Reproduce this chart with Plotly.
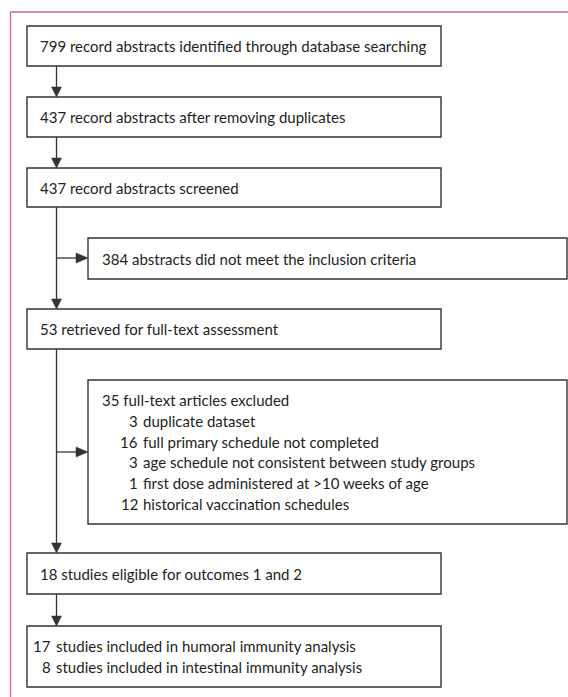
import plotly.graph_objects as go

# ---- content ----
main_texts = [
    ["799 record abstracts identified through database searching"],
    ["437 record abstracts after removing duplicates"],
    ["437 record abstracts screened"],
    ["53 retrieved for full-text assessment"],
    ["18 studies eligible for outcomes 1 and 2"],
    ["17 studies included in humoral immunity analysis",
     "8 studies included in intestinal immunity analysis"],
]
side_header = ["384 abstracts did not meet the inclusion criteria",
               "35 full-text articles excluded"]
excl_counts = [3, 16, 3, 1, 12]
excl_reasons = ["duplicate dataset",
                "full primary schedule not completed",
                "age schedule not consistent between study groups",
                "first dose administered at >10 weeks of age",
                "historical vaccination schedules"]

# ---- layout (pixel geometry) ----
W, H = 568, 697
main_x = (27, 441)
main_y = [(26, 66), (97, 137), (168, 207), (309, 349), (553, 594), (626, 687)]
side_x = (88, 567)
side_y = [(238, 279), (380, 524)]
branch_y = [258, 452]
stem_x = 56.5
FONT = "Lato"
FS = 15
TXT = "#231f20"
LINE = "#333333"
PINK = "#dd6688"

fig = go.Figure()
shapes = []
ann = []

def box(x0, x1, y0, y1):
    shapes.append(dict(type="rect", x0=x0, x1=x1, y0=y0, y1=y1,
                       line=dict(color=LINE, width=1.4), fillcolor="white", layer="above"))

def text(x, y, s, anchor="left"):
    ann.append(dict(x=x, y=y, text=s, showarrow=False, xanchor=anchor, yanchor="middle",
                    borderpad=0, font=dict(family=FONT, size=FS, color=TXT)))

def vline(x, y0, y1):
    shapes.append(dict(type="line", x0=x, x1=x, y0=y0, y1=y1, line=dict(color=LINE, width=1.3)))

def hline(x0, x1, y):
    shapes.append(dict(type="line", x0=x0, x1=x1, y0=y, y1=y, line=dict(color=LINE, width=1.3)))

def head_down(x, ytip):
    shapes.append(dict(type="path", path=f"M {x-5},{ytip-10} L {x+5},{ytip-10} L {x},{ytip} Z",
                       fillcolor=LINE, line=dict(color=LINE, width=0.5)))

def head_right(xtip, y):
    shapes.append(dict(type="path", path=f"M {xtip-12},{y-5} L {xtip-12},{y+5} L {xtip},{y} Z",
                       fillcolor=LINE, line=dict(color=LINE, width=0.5)))

# pink frame
shapes.append(dict(type="line", x0=10.5, x1=W, y0=12, y1=12, line=dict(color=PINK, width=1.3)))
shapes.append(dict(type="line", x0=10.5, x1=10.5, y0=12, y1=H, line=dict(color=PINK, width=1.3)))

# connectors
for i in range(len(main_y) - 1):
    y0 = main_y[i][1]
    y1 = main_y[i + 1][0]
    vline(stem_x, y0, y1 - 8)
    head_down(stem_x, y1)
for by in branch_y:
    hline(stem_x, side_x[0] - 10, by)
    head_right(side_x[0], by)

# main boxes
for (y0, y1), lines in zip(main_y, main_texts):
    box(main_x[0], main_x[1], y0, y1)
    cy = (y0 + y1) / 2
    if len(lines) == 1:
        text(main_x[0] + 12, cy, lines[0])
    else:
        for k, s in enumerate(lines):
            yy = cy + (k - (len(lines) - 1) / 2) * 20.5
            num, rest = s.split(" ", 1)
            text(main_x[0] + 25, yy, num, "right")
            text(main_x[0] + 28, yy, rest)

# side boxes
box(side_x[0], side_x[1], *side_y[0])
text(side_x[0] + 13, sum(side_y[0]) / 2, side_header[0])
box(side_x[0], side_x[1], *side_y[1])
y_first = 400
text(side_x[0] + 13, y_first, side_header[1])
for k, (c, r) in enumerate(zip(excl_counts, excl_reasons)):
    yy = y_first + (k + 1) * 20.8
    text(side_x[0] + 50.5, yy, str(c), "right")
    text(side_x[0] + 54, yy, r)

fig.update_layout(
    width=W, height=H, margin=dict(l=0, r=0, t=0, b=0),
    paper_bgcolor="white", plot_bgcolor="white",
    xaxis=dict(range=[0, W], visible=False, fixedrange=True),
    yaxis=dict(range=[H, 0], visible=False, fixedrange=True),
    shapes=shapes, annotations=ann, showlegend=False,
)
fig.write_html("out.html", config={"displayModeBar": False},
               post_script="document.body.style.margin='0';document.body.style.overflow='hidden';")
